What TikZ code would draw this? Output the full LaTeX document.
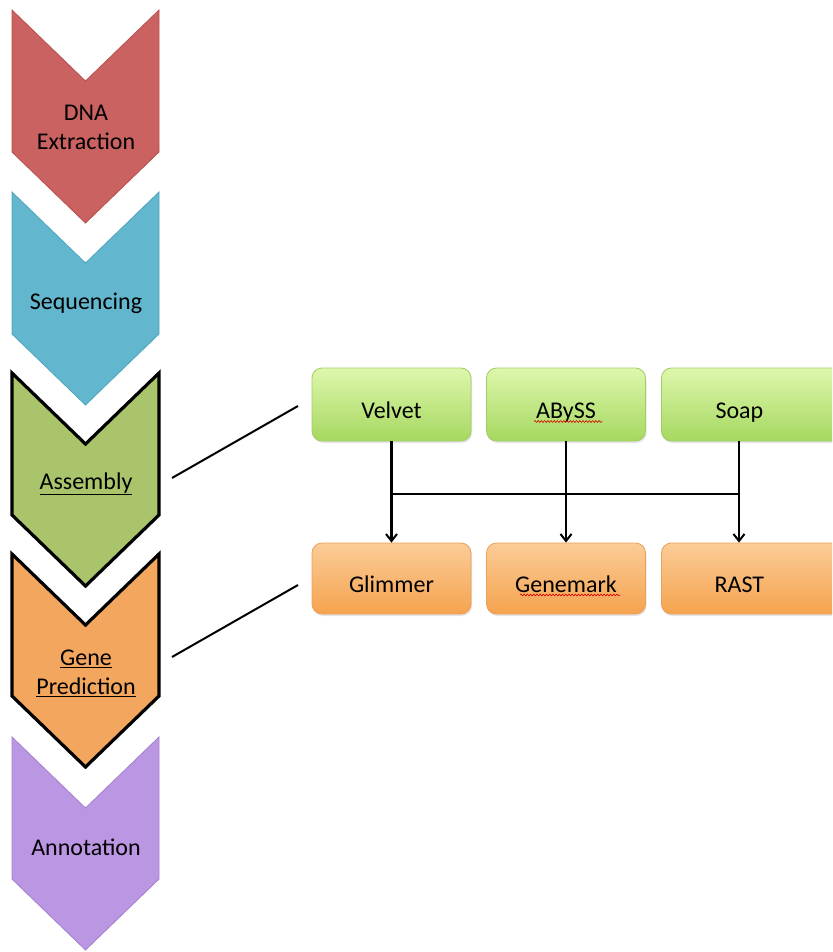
\documentclass[tikz,border=0pt]{standalone}
\usepackage{fontspec}
\setmainfont{Carlito}
\usetikzlibrary{arrows.meta,shadows,decorations.pathmorphing}
\definecolor{cRed}{RGB}{201,98,96}
\definecolor{cRedB}{RGB}{185,80,78}
\definecolor{cBlue}{RGB}{98,182,206}
\definecolor{cBlueB}{RGB}{80,165,190}
\definecolor{cGreen}{RGB}{169,196,107}
\definecolor{cOrange}{RGB}{242,166,94}
\definecolor{cPurple}{RGB}{187,150,226}
\definecolor{cPurpleB}{RGB}{165,128,205}
\definecolor{gTop}{RGB}{222,247,172}
\definecolor{gBot}{RGB}{166,216,96}
\definecolor{gBorder}{RGB}{160,205,100}
\definecolor{oTop}{RGB}{251,204,152}
\definecolor{oBot}{RGB}{245,163,78}
\definecolor{oBorder}{RGB}{235,160,90}
\newcommand{\mychevron}[2]{\draw[#2] (12,#1) -- (85.5,{#1+71}) -- (159,#1) -- (159,{#1+142}) -- (85.5,{#1+213}) -- (12,{#1+142}) -- cycle;}
\begin{document}
\begin{tikzpicture}[x=1pt,y=-1pt,
  lbl/.style={font=\fontsize{24}{29}\selectfont, align=center, inner sep=0pt, text=black},
  gbox/.style={draw=gBorder, line width=0.8pt, rounded corners=10pt, top color=gTop, bottom color=gBot,
     minimum width=159pt, minimum height=73pt, font=\fontsize{24}{29}\selectfont, inner sep=0pt,
     text height=27pt, text depth=0pt,
     drop shadow={opacity=0.2, shadow xshift=1pt, shadow yshift=-2pt}},
  obox/.style={gbox, draw=oBorder, top color=oTop, bottom color=oBot, minimum height=71pt},
  conn/.style={draw=black, line width=2.2pt},
  arr/.style={conn, -{Straight Barb[length=7pt,width=11pt,line width=2pt]}},
  squig/.style={draw=red!85!black, line width=0.6pt, decorate, decoration={snake, amplitude=0.9pt, segment length=3.2pt}}]
\useasboundingbox (0,0) rectangle (832,952);
\clip (0,0) rectangle (832,952);
\fill[white] (0,0) rectangle (832,952);

% chevrons
\mychevron{10}{fill=cRed, draw=cRedB, line width=0.8pt}
\mychevron{192}{fill=cBlue, draw=cBlueB, line width=0.8pt}
\mychevron{373}{fill=cGreen, draw=black, line width=3.2pt, line join=miter}
\mychevron{554}{fill=cOrange, draw=black, line width=3.2pt, line join=miter}
\mychevron{737}{fill=cPurple, draw=cPurpleB, line width=0.8pt}

\node[lbl] (dna) at (86,127) {DNA\\Extraction};
\node[lbl] (seq) at (86,303) {Sequencing};
\node[lbl] (asm) at (86,484) {\underline{Assembly}};
\node[lbl] (gene) at (86,673) {\underline{Gene}\\\underline{Prediction}};
\node[lbl] (ann) at (86,847) {Annotation};

% tool boxes
\node[gbox] (velvet) at (391.5,404.5) {Velvet};
\node[gbox] (abyss) at (566,404.5) {ABySS};
\node[gbox, minimum width=190pt, anchor=west] (soap) at (661,404.5) {\hspace*{-34pt}Soap};
\node[obox] (glimmer) at (391.5,578.5) {Glimmer};
\node[obox] (genemark) at (566,578.5) {Genemark};
\node[obox, minimum width=190pt, anchor=west] (rast) at (661,578.5) {\hspace*{-34pt}RAST};

% spell-check squiggles
\draw[squig] (534,421.5) -- (602,421.5);
\draw[squig] (520,595) -- (620,595);

% connectors from chevrons to boxes
\coordinate (asmR) at (172,478);
\coordinate (velL) at (298,406);
\coordinate (geneR) at (172,657);
\coordinate (glimL) at (298,585);
\draw[conn, line width=2pt] (asmR) -- (velL);
\draw[conn, line width=2pt] (geneR) -- (glimL);

% arrows
\coordinate (sx) at (739,0);
\coordinate (bus) at (0,494);
\draw[conn] (velvet.south |- bus) -- (sx |- bus);
\draw[arr] (velvet.south) -- (glimmer.north);
\draw[arr] (abyss.south) -- (genemark.north);
\draw[arr] (soap.south -| sx) -- (rast.north -| sx);
\end{tikzpicture}
\end{document}
